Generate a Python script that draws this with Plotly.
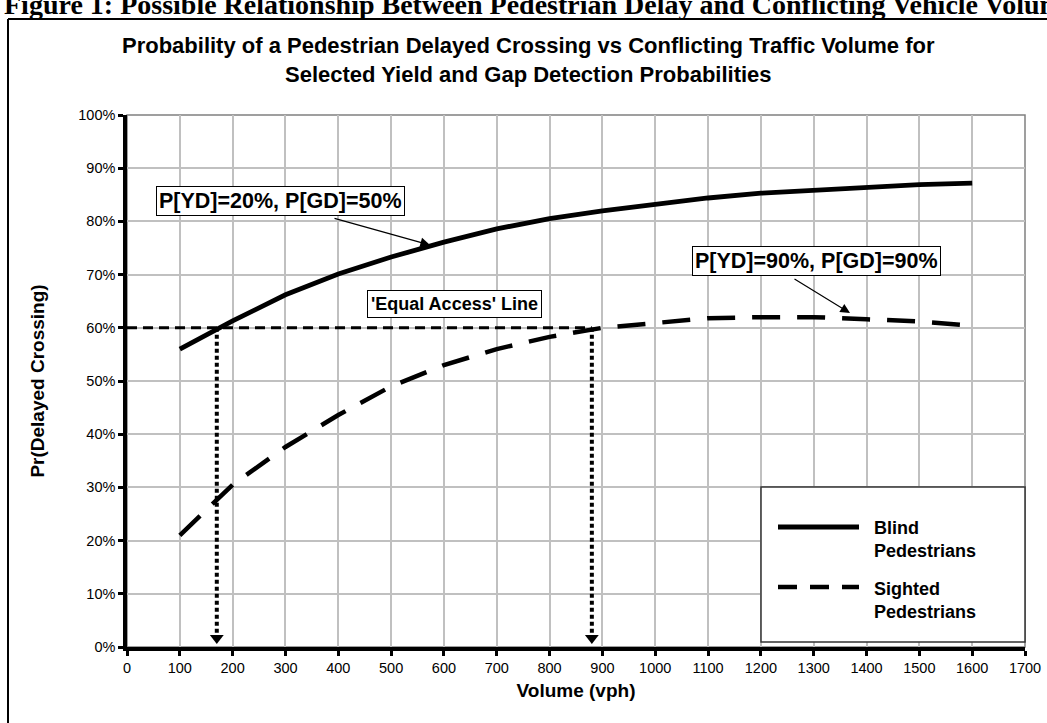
import plotly.graph_objects as go

# Conflicting traffic volume (vph)
volume = [100, 200, 300, 400, 500, 600, 700, 800, 900, 1000, 1100, 1200, 1300, 1400, 1500, 1600]
# Probability of a delayed crossing (%)
blind_pct = [56.0, 61.3, 66.2, 70.1, 73.3, 76.1, 78.6, 80.5, 82.0, 83.3, 84.4, 85.3, 85.9, 86.5, 86.9, 87.2]
sighted_pct = [21.0, 30.5, 37.6, 43.6, 49.0, 53.0, 56.0, 58.3, 60.0, 61.0, 61.8, 62.0, 62.0, 61.6, 61.2, 60.4]

# 'Equal Access' level and the volumes at which each group reaches it
equal_access_pct = 60
equal_access_vol = [170, 880]

x_ticks = list(range(0, 1800, 100))
y_ticks = list(range(0, 110, 10))

W, H = 1047, 723
L, R, T, B = 127, 1025, 115, 647


def px_x(p):
    return (p - L) / (R - L)


def px_y(p):
    return (B - p) / (B - T)


def vol_at(px):
    return (px - L) / (R - L) * 1700


def pct_at(py):
    return (B - py) / (B - T) * 100


fig = go.Figure()

fig.add_trace(go.Scatter(
    x=volume, y=sighted_pct, mode="lines", name="Sighted Pedestrians",
    line=dict(color="black", width=4.5, dash="28px,17px"), showlegend=False))
fig.add_trace(go.Scatter(
    x=volume, y=blind_pct, mode="lines", name="Blind Pedestrians",
    line=dict(color="black", width=4.8), showlegend=False))

# 'Equal Access' horizontal line
fig.add_trace(go.Scatter(
    x=[0, equal_access_vol[1]], y=[equal_access_pct, equal_access_pct], mode="lines",
    line=dict(color="black", width=3, dash="10px,6px"), showlegend=False, hoverinfo="skip"))

# Dotted drop lines to the volume axis
for v in equal_access_vol:
    fig.add_trace(go.Scatter(
        x=[v, v], y=[equal_access_pct, 2.5], mode="lines",
        line=dict(color="black", width=4, dash="4px,3px"), showlegend=False, hoverinfo="skip"))
fig.add_trace(go.Scatter(
    x=equal_access_vol, y=[1.7, 1.7], mode="markers",
    marker=dict(symbol="triangle-down", size=12, color="black"),
    showlegend=False, hoverinfo="skip", cliponaxis=False))

shapes = []
# plot-area border (top/right in grey)
shapes.append(dict(type="rect", xref="paper", yref="paper", x0=0, y0=0, x1=1, y1=1,
                   line=dict(color="#808080", width=1.5), layer="below"))
# outer frame
shapes.append(dict(type="line", xref="paper", yref="paper",
                   x0=px_x(8), x1=px_x(8), y0=px_y(19), y1=px_y(740),
                   line=dict(color="black", width=2)))
shapes.append(dict(type="line", xref="paper", yref="paper",
                   x0=px_x(8), x1=px_x(1060), y0=px_y(19), y1=px_y(19),
                   line=dict(color="black", width=2)))
# legend box
shapes.append(dict(type="rect", xref="paper", yref="paper",
                   x0=px_x(761), x1=px_x(1025), y0=px_y(642), y1=px_y(487),
                   line=dict(color="#333333", width=1.5), fillcolor="white"))
shapes.append(dict(type="line", xref="paper", yref="paper",
                   x0=px_x(778), x1=px_x(859), y0=px_y(527), y1=px_y(527),
                   line=dict(color="black", width=4.8)))
shapes.append(dict(type="line", xref="paper", yref="paper",
                   x0=px_x(778), x1=px_x(859), y0=px_y(587), y1=px_y(587),
                   line=dict(color="black", width=4.5, dash="19px,13px")))

bold = dict(family="Liberation Sans, Arial", color="black")

annotations = [
    dict(xref="paper", yref="paper", x=px_x(528), y=px_y(60), xanchor="center", yanchor="middle",
         text="<b>Probability of a Pedestrian Delayed Crossing vs Conflicting Traffic Volume for<br>"
              "Selected Yield and Gap Detection Probabilities</b>",
         showarrow=False, font=dict(size=22, **bold)),
    dict(xref="paper", yref="paper", x=px_x(2), y=px_y(5), xanchor="left", yanchor="middle",
         text="<b>Figure 1: Possible Relationship Between Pedestrian Delay and Conflicting Vehicle Volume</b>",
         showarrow=False, font=dict(size=28, family="Liberation Serif, Times New Roman", color="black")),
    # curve labels
    dict(xref="x", yref="y", x=vol_at(280), y=pct_at(201),
         text="<b>P[YD]=20%, P[GD]=50%</b>", showarrow=False,
         font=dict(size=21.5, **bold), bgcolor="white", bordercolor="black", borderwidth=1, borderpad=2),
    dict(xref="x", yref="y", x=vol_at(430), y=pct_at(245), axref="x", ayref="y",
         ax=vol_at(333), ay=pct_at(218), text="", showarrow=True,
         arrowhead=2, arrowsize=1.6, arrowwidth=1.2, arrowcolor="black"),
    dict(xref="x", yref="y", x=vol_at(816), y=pct_at(261),
         text="<b>P[YD]=90%, P[GD]=90%</b>", showarrow=False,
         font=dict(size=21.5, **bold), bgcolor="white", bordercolor="black", borderwidth=1, borderpad=2),
    dict(xref="x", yref="y", x=vol_at(850), y=pct_at(313), axref="x", ayref="y",
         ax=vol_at(793), ay=pct_at(278), text="", showarrow=True,
         arrowhead=2, arrowsize=1.6, arrowwidth=1.2, arrowcolor="black"),
    dict(xref="x", yref="y", x=vol_at(454), y=pct_at(304),
         text="<b>'Equal Access' Line</b>", showarrow=False,
         font=dict(size=18, **bold), bgcolor="white", bordercolor="black", borderwidth=1, borderpad=3),
    # legend text
    dict(xref="paper", yref="paper", x=px_x(872), y=px_y(539), xanchor="left", yanchor="middle",
         align="left", text="<b>Blind<br>Pedestrians</b>", showarrow=False, font=dict(size=18, **bold)),
    dict(xref="paper", yref="paper", x=px_x(872), y=px_y(600), xanchor="left", yanchor="middle",
         align="left", text="<b>Sighted<br>Pedestrians</b>", showarrow=False, font=dict(size=18, **bold)),
]

axis_common = dict(showline=True, linecolor="black", linewidth=3.5, ticks="outside",
                   ticklen=5, tickwidth=3, tickcolor="black", showgrid=True,
                   gridcolor="#c0c0c0", gridwidth=2, zeroline=False, automargin=False,
                   tickfont=dict(family="Liberation Sans, Arial", size=14.5, color="black"))

fig.update_layout(
    width=W, height=H,
    margin=dict(l=L, r=W - R, t=T, b=H - B),
    paper_bgcolor="white", plot_bgcolor="white",
    xaxis=dict(range=[0, 1700], tickvals=x_ticks, ticktext=[str(v) for v in x_ticks],
               title=dict(text="<b>Volume (vph)</b>", font=dict(size=19, **bold), standoff=10),
               **axis_common),
    yaxis=dict(range=[0, 100], tickvals=y_ticks, ticktext=[f"{v}%" for v in y_ticks],
               title=dict(text="<b>Pr(Delayed Crossing)</b>", font=dict(size=19, **bold), standoff=30),
               **axis_common),
    shapes=shapes,
    annotations=annotations,
    showlegend=False,
)

fig.write_html("out.html")
